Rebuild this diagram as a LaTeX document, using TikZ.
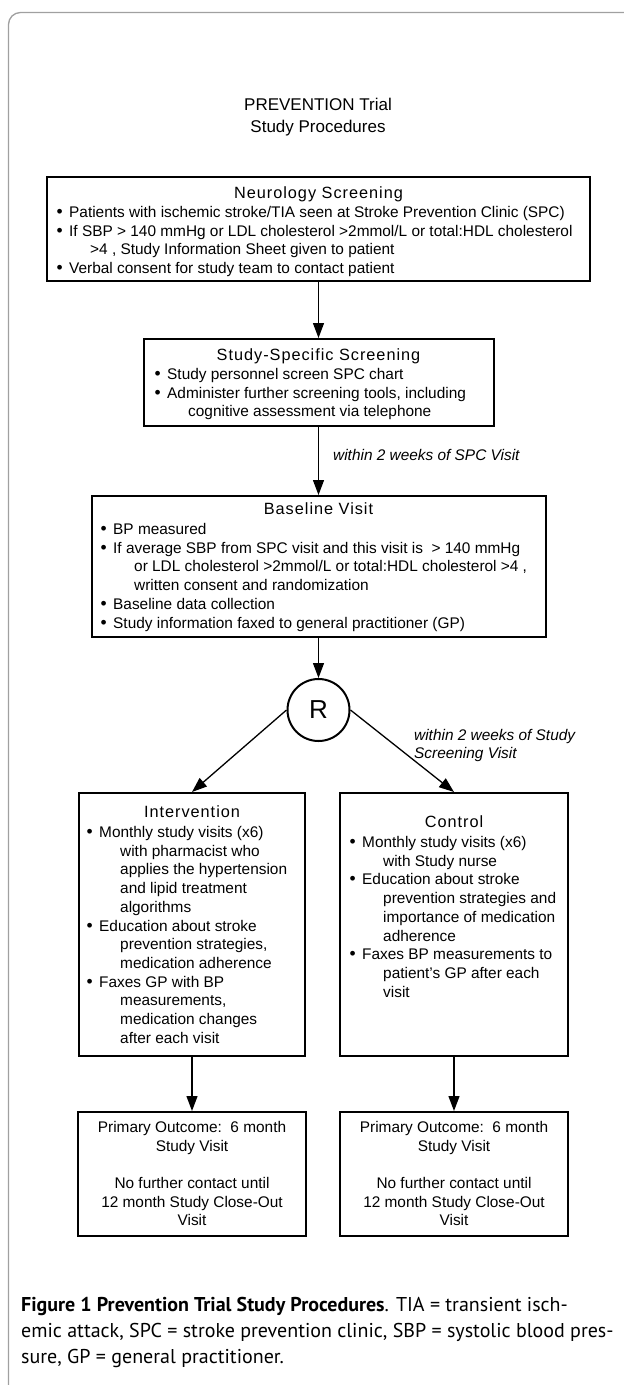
\documentclass[tikz,border=0pt]{standalone}
\usepackage{fontspec}
\setmainfont{Liberation Sans}
\newfontfamily\ttlfont[LetterSpace=6]{Liberation Sans}
\newfontfamily\capfont{PT Sans}
\usetikzlibrary{arrows.meta}
\definecolor{framegray}{RGB}{160,160,160}
\newcommand{\bfont}{\fontsize{15.4}{18.7}\selectfont}
\newcommand{\tfont}{\fontsize{16.3}{18.7}\selectfont}
\newlength{\bw}
\setlength{\bw}{12.7pt}
\newcommand{\bu}{\makebox[\bw][l]{\fontsize{17.5}{18.7}\selectfont\textbullet}}
\newcommand{\ct}{\hspace*{33.7pt}}
\tikzset{
  box/.style={draw, line width=2pt, inner sep=0pt},
  body/.style={inner sep=0pt, anchor=base west, font=\bfont},
  ttl/.style={inner sep=0pt, anchor=base, font=\ttlfont\tfont},
  arr/.style={line width=1.3pt, -{Triangle[length=15pt,width=11pt]}},
  lbl/.style={inner sep=0pt, font=\bfont\itshape, align=left},
  outtxt/.style={inner sep=0pt, anchor=base, font=\bfont},
}
\begin{document}
\begin{tikzpicture}[x=1pt,y=-1pt]
\clip (0,0) rectangle (624,1385);
\draw[framegray, line width=1.3pt, rounded corners=12pt] (8.5,12.5) rectangle (700,1420);

% title
\node[inner sep=0pt, font=\fontsize{17}{21.5}\selectfont, align=center] (title) at (318,117) {PREVENTION Trial\\Study Procedures};

% boxes
\node[box, minimum width=543pt, minimum height=104pt] (neuro) at (318.5,229) {};
\node[box, minimum width=350pt, minimum height=87pt] (spec) at (318.5,382.5) {};
\node[box, minimum width=454pt, minimum height=141pt] (base) at (318.5,566.5) {};
\node[draw, circle, line width=2pt, minimum size=62pt, inner sep=0pt, font=\fontsize{26}{26}\selectfont] (R) at (318.5,710) {R};
\node[box, minimum width=226pt, minimum height=263pt] (intv) at (192,924.5) {};
\node[box, minimum width=228pt, minimum height=263pt] (ctrl) at (454,924.5) {};
\node[box, minimum width=228pt, minimum height=124pt] (out1) at (192,1174) {};
\node[box, minimum width=228pt, minimum height=124pt] (out2) at (454,1174) {};

% box 1
\node[ttl] (h1) at (318.5,198.5) {Neurology Screening};
\node[body] (t1) at (56.3,217.5) {\parbox[t]{560pt}{%
\bu Patients with ischemic stroke/TIA seen at Stroke Prevention Clinic (SPC)\par
\bu If SBP > 140 mmHg or LDL cholesterol >2mmol/L or total:HDL cholesterol\par
\ct >4 , Study Information Sheet given to patient\par
\bu Verbal consent for study team to contact patient}};

% box 2
\node[ttl] (h2) at (318.5,360.5) {Study-Specific Screening};
\node[body] (t2) at (154.3,379.5) {\parbox[t]{340pt}{%
\bu Study personnel screen SPC chart\par
\bu Administer further screening tools, including\par
\ct cognitive assessment via telephone}};

% box 3
\node[ttl] (h3) at (318.5,514.5) {Baseline Visit};
\node[body] (t3) at (100.3,534.5) {\parbox[t]{450pt}{%
\bu BP measured\par
\bu If average SBP from SPC visit and this visit is\ \ > 140 mmHg\par
\ct or LDL cholesterol >2mmol/L or total:HDL cholesterol >4 ,\par
\ct written consent and randomization\par
\bu Baseline data collection\par
\bu Study information faxed to general practitioner (GP)}};

% intervention
\node[ttl] (h4) at (192,817.5) {Intervention};
\node[body] (t4) at (86.3,837.5) {\parbox[t]{220pt}{%
\bu Monthly study visits (x6)\par
\ct with pharmacist who\par
\ct applies the hypertension\par
\ct and lipid treatment\par
\ct algorithms\par
\bu Education about stroke\par
\ct prevention strategies,\par
\ct medication adherence\par
\bu Faxes GP with BP\par
\ct measurements,\par
\ct medication changes\par
\ct after each visit}};

% control
\node[ttl] (h5) at (454,827.5) {Control};
\node[body] (t5) at (349.3,847.5) {\parbox[t]{220pt}{%
\bu Monthly study visits (x6)\par
\ct with Study nurse\par
\bu Education about stroke\par
\ct prevention strategies and\par
\ct importance of medication\par
\ct adherence\par
\bu Faxes BP measurements to\par
\ct patient’s GP after each\par
\ct visit}};

% outcomes
\node[outtxt] (o1) at (192,1132.5) {\parbox[t]{228pt}{\centering
Primary Outcome:\ \ 6 month\\ Study Visit\\[18.4pt] No further contact until\\ 12 month Study Close-Out\\ Visit}};
\node[outtxt] (o2) at (454,1132.5) {\parbox[t]{228pt}{\centering
Primary Outcome:\ \ 6 month\\ Study Visit\\[18.4pt] No further contact until\\ 12 month Study Close-Out\\ Visit}};

% labels
\node[lbl, anchor=west] (l1) at (333,455) {within 2 weeks of SPC Visit};
\node[lbl, anchor=west] (l2) at (414,745.5) {within 2 weeks of Study\\Screening Visit};

% connectors
\draw[arr] (neuro.south) -- (spec.north);
\draw[arr] (spec.south) -- (base.north);
\draw[arr] (base.south) -- (R.north);
\draw[arr] (R.west) -- (intv.north);
\draw[arr] (R.east) -- (ctrl.north);
\draw[arr] (intv.south) -- (out1.north);
\draw[arr] (ctrl.south) -- (out2.north);

% caption
\node[inner sep=0pt, anchor=base west, font=\capfont\fontsize{20}{26.3}\selectfont] (cap) at (21,1311) {\parbox[t]{600pt}{%
\hbox{\textbf{Figure 1 Prevention Trial Study Procedures}. TIA = transient isch-}%
\hbox{emic attack, SPC = stroke prevention clinic, SBP = systolic blood pres-}%
\hbox{sure, GP = general practitioner.}}};
\end{tikzpicture}
\end{document}
